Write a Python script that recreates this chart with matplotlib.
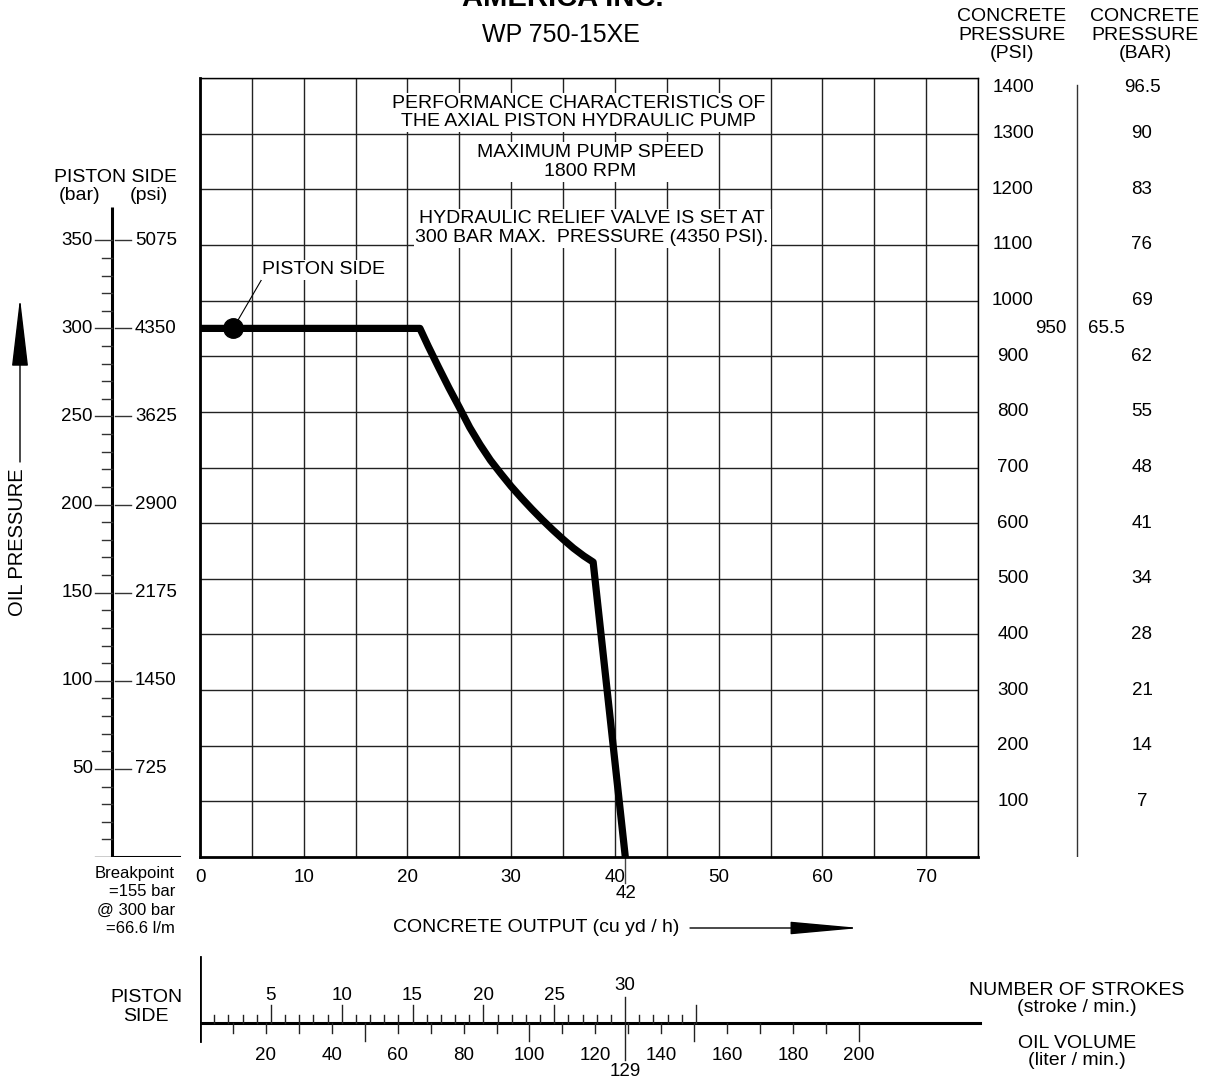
import matplotlib
matplotlib.use("Agg")
import matplotlib.pyplot as plt

plt.rcParams['font.family'] = ['Liberation Sans', 'DejaVu Sans']
plt.rcParams['font.size'] = 14

# --- data ---
output_ticks = [0, 10, 20, 30, 40, 50, 60, 70]
psi_ticks = [100, 200, 300, 400, 500, 600, 700, 800, 900, 1000, 1100, 1200, 1300, 1400]
bar_labels = ['7', '14', '21', '28', '34', '41', '48', '55', '62', '69', '76', '83', '90', '96.5']
piston_bar = [50, 100, 150, 200, 250, 300, 350]
piston_psi = ['725', '1450', '2175', '2900', '3625', '4350', '5075']
psi_per_bar = 950 / 300          # 300 bar oil pressure <-> 950 psi concrete pressure

# performance curve (cu yd/h, concrete psi)
curve_x = [0, 21.2, 22.0, 23.0, 24.0, 25.0, 26.0, 27.0, 28.0, 29.0, 30.0, 31.0,
           32.0, 33.0, 34.0, 35.0, 36.0, 37.0, 37.9, 41.0]
curve_psi = [950, 950, 918, 880, 843, 808, 772, 741, 713, 689, 666, 645,
             625, 606, 588, 571, 555, 541, 530, 0]
marker_x = 3.2
max_output = 41.0

strokes_labeled = [5, 10, 15, 20, 25, 30]
strokes_max = 35
liter_labels = [20, 40, 60, 80, 100, 120, 140, 160, 180, 200]
liters_at_30 = 129
liters_per_stroke = liters_at_30 / 30

W, H = 1207, 1081
NUM = 13.5   # size of the number labels


def fx(px):
    return px / W


def fy(py):
    return 1 - py / H


fig = plt.figure(figsize=(W / 100, H / 100), dpi=100)

# main grid
ax = fig.add_axes([fx(200), fy(857), (978 - 200) / W, (857 - 78) / H])
ax.set_xlim(0, 75)
ax.set_ylim(0, 1400)
ax.set_xticks(output_ticks)
ax.set_xticklabels([str(v) for v in output_ticks])
ax.set_xticks(range(5, 76, 10), minor=True)
ax.set_yticks(psi_ticks)
ax.set_yticklabels([])
ax.tick_params(which='both', length=0, labelsize=NUM, pad=9)
ax.grid(which='both', color='#222222', lw=1.0)
for side in ['left', 'bottom']:
    ax.spines[side].set_linewidth(2)
for side in ['top', 'right']:
    ax.spines[side].set_linewidth(1)

ax.plot(curve_x, curve_psi, color='black', lw=5.2, solid_joinstyle='round', zorder=5)
ax.plot(marker_x, curve_psi[0], 'o', ms=14, color='black', zorder=6)
ax.annotate('PISTON SIDE', xy=(marker_x, curve_psi[0]), xytext=(6.0, 1055),
            ha='left', va='center',
            bbox=dict(fc='white', ec='none', pad=1),
            arrowprops=dict(arrowstyle='-', lw=0.8, color='black',
                            shrinkA=0, shrinkB=7, relpos=(0, 0)))

box = dict(fc='white', ec='none', pad=1.2)
ax.text(36.5, 1338, 'PERFORMANCE CHARACTERISTICS OF\nTHE AXIAL PISTON HYDRAULIC PUMP',
        ha='center', va='center', linespacing=1.12, bbox=box)
ax.text(37.6, 1249, 'MAXIMUM PUMP SPEED\n1800 RPM',
        ha='center', va='center', linespacing=1.12, bbox=box)
ax.text(37.8, 1130, 'HYDRAULIC RELIEF VALVE IS SET AT\n300 BAR MAX.  PRESSURE (4350 PSI).',
        ha='center', va='center', linespacing=1.12, bbox=box)

# 42 marker under the x axis
ax.plot([max_output, max_output], [0, -0.033], color='#444444', lw=1,
        transform=ax.get_xaxis_transform(), clip_on=False)
ax.text(max_output + 0.1, -0.047, '42', ha='center', va='center', fontsize=NUM,
        transform=ax.get_xaxis_transform())

# right scales
ax_r = fig.add_axes([fx(978), fy(857), (1207 - 978) / W, (857 - 78) / H])
ax_r.set_xlim(978, 1207)
ax_r.set_ylim(0, 1400)
ax_r.axis('off')
for p, b in zip(psi_ticks, bar_labels):
    top = p == psi_ticks[-1]
    va = 'top' if top else 'center'
    yy = p - 2 if top else p
    ax_r.text(1013, yy, str(p), ha='center', va=va, fontsize=NUM)
    ax_r.text(1142, yy, b, ha='center', va=va, fontsize=NUM)
ax_r.text(1051, 950, '950', ha='center', va='center', fontsize=NUM)
ax_r.text(1106, 950, '65.5', ha='center', va='center', fontsize=NUM)
ax_r.plot([1077, 1077], [0, 1387], color='#333333', lw=1)

# left piston side scale (bar / psi)
ax_l = fig.add_axes([0, fy(857), fx(200), (857 - 78) / H])
ax_l.set_xlim(0, 200)
ax_l.set_ylim(0, 1400 / psi_per_bar)
ax_l.axis('off')
ax_l.plot([112, 112], [0, 369], color='black', lw=2.2, solid_capstyle='butt')
ax_l.plot([95, 112], [0, 0], color='black', lw=1)
ax_l.plot([112, 179], [0, 0], color='black', lw=2.2)
for b in range(10, 351, 10):
    if b % 50 == 0:
        ax_l.plot([95, 112], [b, b], color='#333333', lw=1)
        ax_l.plot([115, 131], [b, b], color='#333333', lw=1)
    else:
        ax_l.plot([102, 112], [b, b], color='#333333', lw=1)
for b, p in zip(piston_bar, piston_psi):
    ax_l.text(93, b, str(b), ha='right', va='center', fontsize=NUM)
    ax_l.text(135, b, p, ha='left', va='center', fontsize=NUM)

fig.text(fx(115), fy(178), 'PISTON SIDE', ha='center', va='center')
fig.text(fx(80), fy(196), '(bar)', ha='center', va='center')
fig.text(fx(149), fy(196), '(psi)', ha='center', va='center')
fig.text(fx(18), fy(542), 'OIL PRESSURE', rotation=90, ha='center', va='center', fontsize=14.5)
ax.annotate('', xy=(20, H - 298), xytext=(20, H - 462),
            xycoords='figure pixels', textcoords='figure pixels',
            arrowprops=dict(arrowstyle='-|>,head_length=2.2,head_width=0.26',
                            mutation_scale=20, color='black', lw=1, shrinkA=0, shrinkB=0))

fig.text(fx(175), fy(866), 'Breakpoint\n=155 bar\n@ 300 bar\n=66.6 l/m',
         ha='right', va='top', fontsize=12, linespacing=1.28)

fig.text(fx(393), fy(928), 'CONCRETE OUTPUT (cu yd / h)', ha='left', va='center')
ax.annotate('', xy=(860, H - 928), xytext=(690, H - 928),
            xycoords='figure pixels', textcoords='figure pixels',
            arrowprops=dict(arrowstyle='-|>,head_length=2.2,head_width=0.2',
                            mutation_scale=20, color='black', lw=1, shrinkA=0, shrinkB=0))

# titles
fig.text(fx(563), fy(6), 'AMERICA INC.', ha='center', va='baseline',
         fontsize=21, fontweight='bold')
fig.text(fx(561), fy(35), 'WP 750-15XE', ha='center', va='center', fontsize=18)
fig.text(fx(1012), fy(35), 'CONCRETE\nPRESSURE\n(PSI)', ha='center', va='center',
         linespacing=1.14)
fig.text(fx(1145), fy(35), 'CONCRETE\nPRESSURE\n(BAR)', ha='center', va='center',
         linespacing=1.14)

# bottom strokes / oil volume scale
px_per_liter = (625 - 200) / liters_at_30
ax_b = fig.add_axes([fx(200), 0, (1000 - 200) / W, (1081 - 940) / H])
ax_b.set_xlim(0, 800 / px_per_liter)
ax_b.set_ylim(1081, 940)
ax_b.axis('off')
line_end = 780 / px_per_liter
ax_b.plot([0, line_end], [1023, 1023], color='black', lw=2.2)
ax_b.plot([0, 0], [957, 1041], color='black', lw=2.0)
for s in range(1, strokes_max + 1):
    xs = s * liters_per_stroke
    if s == 30:
        top, bottom = 997, 1060
    elif s % 5 == 0:
        top, bottom = 1005, 1023
    else:
        top, bottom = 1015, 1023
    ax_b.plot([xs, xs], [top, bottom], color='#222222', lw=1)
for lv in range(10, 201, 10):
    end = 1041 if lv % 50 == 0 else (1037 if lv == 200 else 1033)
    ax_b.plot([lv, lv], [1023, end], color='#222222', lw=1)
for s in strokes_labeled:
    ax_b.text(s * liters_per_stroke, 985 if s == 30 else 995, str(s),
              ha='center', va='center', fontsize=NUM)
for lv in liter_labels:
    ax_b.text(lv, 1055, str(lv), ha='center', va='center', fontsize=NUM)
ax_b.text(liters_at_30, 1071, str(liters_at_30), ha='center', va='center', fontsize=NUM)

fig.text(fx(146), fy(1007), 'PISTON\nSIDE', ha='center', va='center', linespacing=1.12)
fig.text(fx(1077), fy(999), 'NUMBER OF STROKES\n(stroke / min.)', ha='center', va='center',
         linespacing=1.02)
fig.text(fx(1077), fy(1052), 'OIL VOLUME\n(liter / min.)', ha='center', va='center',
         linespacing=1.05)

fig.savefig('out.png', dpi=100)
